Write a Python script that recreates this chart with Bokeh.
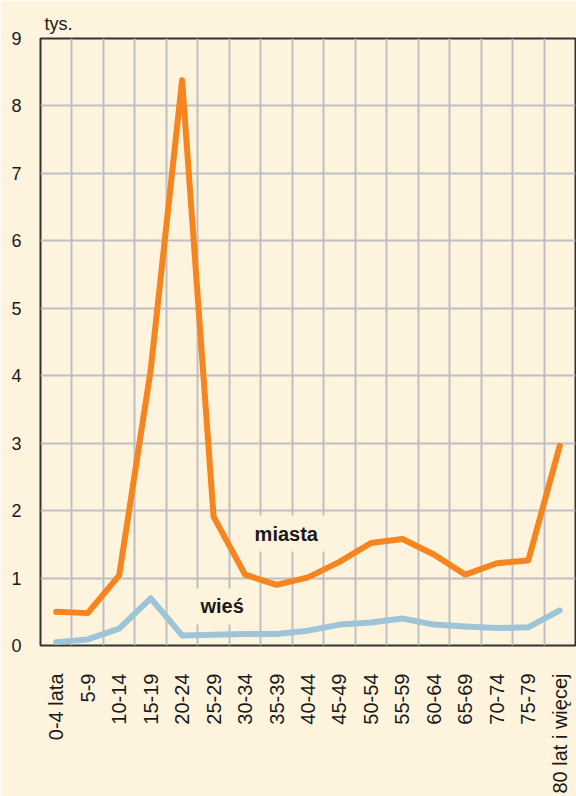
from math import pi
from bokeh.plotting import figure
from bokeh.models import FixedTicker, Label, Title
from bokeh.embed import file_html
from bokeh.resources import INLINE

categories = ["0-4 lata", "5-9", "10-14", "15-19", "20-24", "25-29", "30-34",
              "35-39", "40-44", "45-49", "50-54", "55-59", "60-64", "65-69",
              "70-74", "75-79", "80 lat i więcej"]
miasta = [0.50, 0.48, 1.04, 4.08, 8.38, 1.91, 1.05, 0.90, 1.01, 1.24, 1.52,
          1.58, 1.35, 1.05, 1.22, 1.26, 2.96]
wies = [0.05, 0.09, 0.25, 0.70, 0.15, 0.16, 0.17, 0.17, 0.22, 0.31, 0.34,
        0.40, 0.31, 0.28, 0.26, 0.27, 0.52]
y_ticks = [0, 1, 2, 3, 4, 5, 6, 7, 8, 9]
unit_label = "tys."

BG = "#FEF4DE"
ORANGE = "#F6841F"
BLUE = "#9EC4D7"
GRID = "#BEBEC4"
DARK = "#333333"
FONT = "Liberation Sans"

x = list(range(len(categories)))

p = figure(width=576, height=796, output_backend="svg", toolbar_location=None,
           x_range=(-0.5, len(categories) - 0.5), y_range=(0, 9),
           min_border_left=40, min_border_right=1, min_border_top=38,
           min_border_bottom=150)
p.title = Title(text=unit_label, align="left", offset=4, standoff=10,
                text_font=FONT, text_font_size="18px", text_font_style="normal",
                text_color="#1a1a1a")
p.background_fill_color = BG
p.border_fill_color = BG
p.outline_line_color = DARK
p.outline_line_width = 2

p.xaxis.ticker = FixedTicker(ticks=x)
p.xaxis.major_label_overrides = {i: c for i, c in zip(x, categories)}
p.xaxis.major_label_orientation = pi / 2
p.yaxis.ticker = FixedTicker(ticks=y_ticks)
for ax in (p.xaxis, p.yaxis):
    ax.axis_line_color = None
    ax.major_tick_line_color = None
    ax.minor_tick_line_color = None
    ax.major_label_text_font = FONT
    ax.major_label_text_color = "#1a1a1a"
p.xaxis.major_label_text_font_size = "20px"
p.xaxis.major_label_standoff = 22
p.yaxis.major_label_text_font_size = "18px"
p.yaxis.major_label_standoff = 13

p.xgrid.ticker = FixedTicker(ticks=[i + 0.5 for i in x[:-1]])
p.ygrid.ticker = FixedTicker(ticks=y_ticks[1:-1])
for g in (p.xgrid, p.ygrid):
    g.grid_line_color = GRID
    g.grid_line_width = 2

p.line(x, wies, line_color=BLUE, line_width=6, line_join="round", line_cap="round")
p.line(x, miasta, line_color=ORANGE, line_width=6, line_join="round", line_cap="round")

p.add_layout(Label(x=7.31, y=1.66, text="miasta", text_align="center",
                   text_baseline="middle", text_font=FONT, text_font_size="20px",
                   text_font_style="bold", text_color="#1a1a1a",
                   background_fill_color=BG, padding=7))
p.add_layout(Label(x=5.27, y=0.58, text="wieś", text_align="center",
                   text_baseline="middle", text_font=FONT, text_font_size="20px",
                   text_font_style="bold", text_color="#1a1a1a",
                   background_fill_color=BG, padding=7))

open("out.html", "w").write(file_html(p, INLINE))
